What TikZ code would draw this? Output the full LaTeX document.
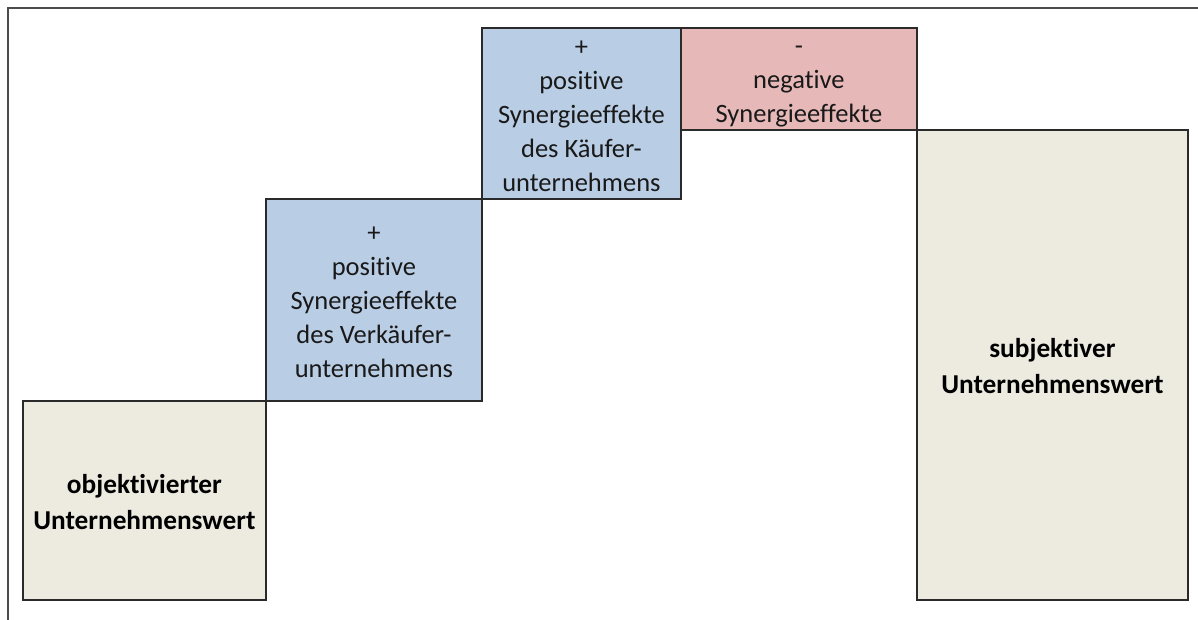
\documentclass[tikz,border=0pt]{standalone}
\usepackage{fontspec}
\setmainfont[Ligatures=NoCommon]{Carlito}
\definecolor{baseval}{HTML}{EDEAE0}
\definecolor{posval}{HTML}{B9CDE5}
\definecolor{negval}{HTML}{E6B9B8}
\definecolor{edge}{HTML}{2A2A2A}
\tikzset{
  block/.style={draw=edge, line width=1.8pt, inner sep=0pt, anchor=north west},
  plain/.style={align=center, inner sep=0pt, text=black!90,
    font=\fontsize{26.5}{34}\selectfont},
  heavy/.style={align=center, inner sep=0pt, text=black,
    font=\fontsize{27.3}{36}\selectfont\bfseries},
}
\begin{document}
\begin{tikzpicture}[x=1pt,y=-1pt]
  \useasboundingbox (0,0) rectangle (1198,620);
  % frame
  \draw[gray!60!black, line width=1.6pt] (8,620) -- (8,8) -- (1198,8);
  % value blocks
  \node[block, fill=baseval, minimum width=243pt, minimum height=199pt] (obj) at (22,400) {};
  \node[block, fill=posval, minimum width=216pt, minimum height=202pt] (seller) at (265,198) {};
  \node[block, fill=posval, minimum width=199pt, minimum height=171pt] (buyer) at (481,27) {};
  \node[block, fill=negval, minimum width=236pt, minimum height=102pt] (neg) at (680,27) {};
  \node[block, fill=baseval, minimum width=271pt, minimum height=470pt] (subj) at (916,129) {};
  % block texts
  \node[heavy, yshift=-1.5pt] (objtext) at (obj.center) {objektivierter\\Unternehmenswert};
  \node[plain, yshift=-2pt] (sellertext) at (seller.center)
    {+\\positive\\Synergieeffekte\\des Verkäufer-\\unternehmens};
  \node[plain, yshift=-2.5pt] (buyertext) at (buyer.center)
    {+\\positive\\Synergieeffekte\\des Käufer-\\unternehmens};
  \node[plain, yshift=-7.5pt] (negtext) at (neg.center) {-\\negative\\Synergieeffekte};
  \node[heavy, yshift=-1.5pt] (subjtext) at (subj.center) {subjektiver\\Unternehmenswert};
\end{tikzpicture}
\end{document}
